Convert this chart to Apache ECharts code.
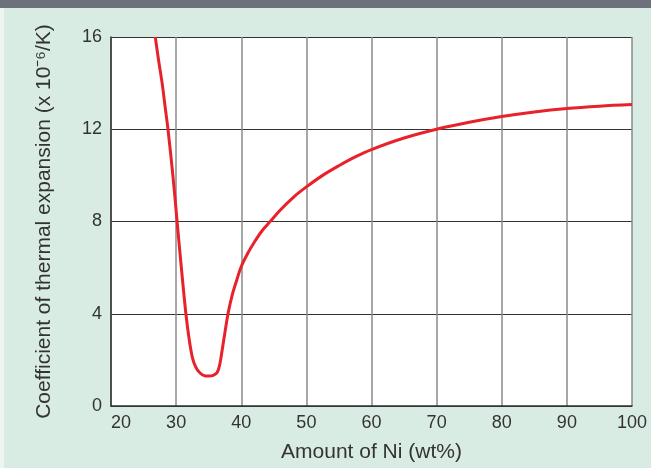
<!DOCTYPE html>
<html>
<head>
<meta charset="utf-8">
<script src="https://cdn.jsdelivr.net/npm/echarts@6/dist/echarts.min.js"></script>
<style>
html,body{margin:0;padding:0;background:#d8ece4;}
#c{width:651px;height:468px;}
</style>
</head>
<body>
<div id="c"></div>
<script>
// Data
const niPercent = [26.8, 27.3, 27.85, 28.3, 28.75, 29.5, 30.15, 30.8, 31.5, 32.0, 32.5, 33.0, 33.6, 34.3, 35.0, 35.7, 36.3, 36.7, 37.0, 37.5, 38.0, 38.6, 39.3, 40.0, 41.0, 42.0, 43.2, 44.5, 46.0, 48.0, 50.0, 52.5, 55.0, 57.5, 60.0, 65.0, 70.0, 75.0, 80.0, 85.0, 90.0, 95.0, 100.0];
const cteValues = [16, 15, 14, 13, 12, 10, 8, 6, 4, 2.9, 2.1, 1.7, 1.45, 1.32, 1.3, 1.33, 1.45, 1.8, 2.3, 3.2, 4.05, 4.8, 5.45, 6.05, 6.62, 7.1, 7.6, 8.02, 8.5, 9.05, 9.5, 10.0, 10.42, 10.8, 11.12, 11.62, 12.0, 12.3, 12.55, 12.75, 12.9, 13.0, 13.07];
const xTicks = [20, 100, 10];   // min, max, interval
const yTicks = [0, 16, 4];
const xTitle = 'Amount of Ni (wt%)';
const yTitle = 'Coefficient of thermal expansion (x 10\u207B\u2076/K)';

const font = '"Liberation Sans", Arial, Helvetica, sans-serif';
const chart = echarts.init(document.getElementById('c'), null, {renderer: 'canvas'});
chart.setOption({
  backgroundColor: '#d8ece4',
  animation: false,
  graphic: [
    {type: 'rect', shape: {x: 0, y: 0, width: 651, height: 8}, style: {fill: '#6d717b'}, z: 10},
    {type: 'rect', shape: {x: 0, y: 8, width: 4, height: 460}, style: {fill: '#eef4f1'}, z: 10}
  ],
  grid: {left: 111, right: 19, top: 37, bottom: 60, show: true, backgroundColor: '#ffffff', borderWidth: 0},
  xAxis: {
    type: 'value', min: xTicks[0], max: xTicks[1], interval: xTicks[2],
    name: xTitle, nameLocation: 'middle', nameGap: 36,
    nameTextStyle: {fontFamily: font, fontSize: 21, color: '#333'},
    axisLine: {show: true, lineStyle: {color: '#333', width: 1.5}},
    axisTick: {show: false},
    axisLabel: {fontFamily: font, fontSize: 18, color: '#333', margin: 8, alignMinLabel: 'left'},
    splitLine: {show: true, lineStyle: {color: '#8a8a8a', width: 1.5}}
  },
  yAxis: {
    type: 'value', min: yTicks[0], max: yTicks[1], interval: yTicks[2],
    name: yTitle, nameLocation: 'middle', nameGap: 56, nameRotate: 90,
    nameTextStyle: {fontFamily: font, fontSize: 21, color: '#333'},
    axisLine: {show: true, lineStyle: {color: '#333', width: 1.5}},
    axisTick: {show: false},
    axisLabel: {fontFamily: font, fontSize: 18, color: '#333', margin: 9},
    splitLine: {show: true, lineStyle: {color: '#333', width: 1.2}}
  },
  series: [{
    type: 'line',
    data: niPercent.map((x, i) => [x, cteValues[i]]),
    smooth: 0.35,
    showSymbol: false,
    lineStyle: {color: '#e8222b', width: 3},
    clip: true
  }]
});
</script>
</body>
</html>
